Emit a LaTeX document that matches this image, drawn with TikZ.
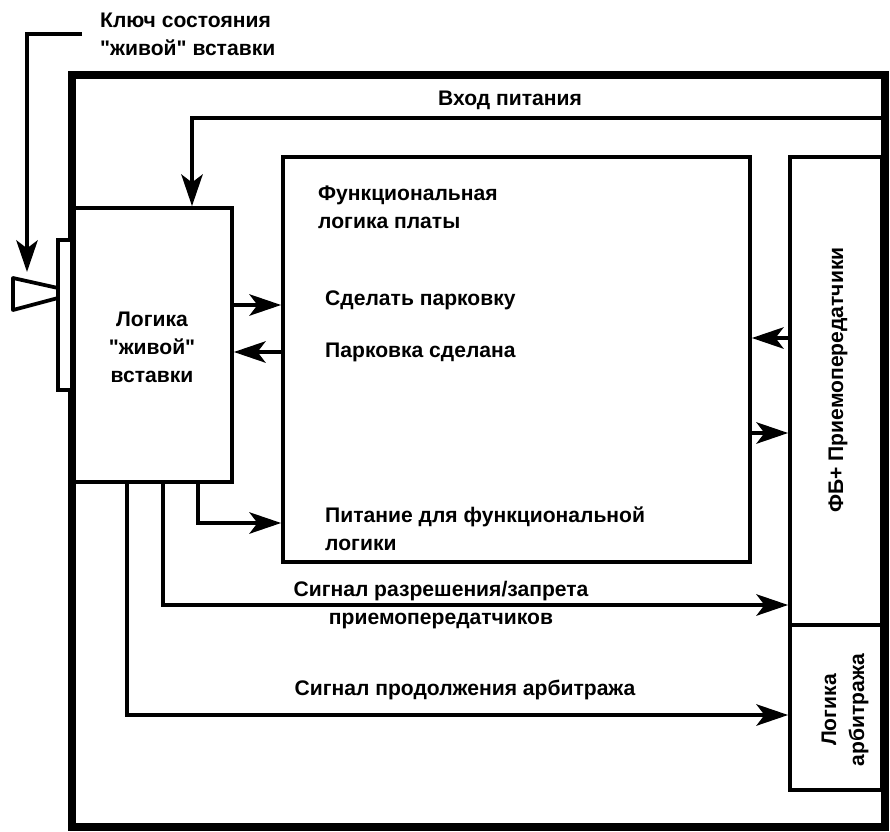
\documentclass[tikz,border=0pt]{standalone}
\usepackage{fontspec}
\setmainfont{Liberation Sans}[Ligatures=TeXOff]
\usepackage{tikz}
\usetikzlibrary{arrows.meta,positioning,fit}

\tikzset{
  blk/.style={draw,line width=3.2pt,inner sep=0pt},
  sig/.style={line width=3.2pt,-{Stealth[length=9.5mm,width=6.4mm,inset=2.4mm]}},
  lbl/.style={font=\fontsize{18}{24}\selectfont\bfseries,inner sep=0pt}
}

\begin{document}
\begin{tikzpicture}[x=0.03cm,y=-0.03cm]
  \useasboundingbox (0,0) rectangle (890,831);
  \node[blk,line width=7.5pt,fit={(72,75) (885,827)}] (board) {};
  \node[blk,fit={(74,208) (232,482)}] (hs) {};
  \node[blk,fit={(283,157) (750,562)}] (fl) {};
  \node[blk,fit={(790,157) (882,625)}] (tr) {};
  \node[blk,fit={(790,625) (882,790)}] (arb) {};
  \node[blk,fill=white,fit={(58,240) (72,390)}] (bar) {};
  \draw[line width=3.2pt,line join=round] (13,278) -- (58,288) -- (58,298) -- (13,310) -- cycle;
  \coordinate (plug) at (27,272);
  \coordinate (pin) at (885,118);

  \node[lbl,anchor=west,align=left] (key) at (100,34) {Ключ состояния\\"живой" вставки};
  \node[lbl] (pwrlbl) at (510,100) {Вход питания};
  \node[lbl,align=center] (hslbl) at (152,347) {Логика\\"живой"\\вставки};
  \node[lbl,anchor=west,align=left] (fltitle) at (318,207) {Функциональная\\логика платы};
  \node[lbl,anchor=west] (park) at (325,300) {Сделать парковку};
  \node[lbl,anchor=west] (parked) at (325,352) {Парковка сделана};
  \node[lbl,anchor=west,align=left] (flpwr) at (325,529) {Питание для функциональной\\логики};
  \node[lbl,align=center] (enlbl) at (441,605) {Сигнал разрешения/запрета\\приемопередатчиков};
  \node[lbl] (arblbl) at (465,690) {Сигнал продолжения арбитража};
  \node[lbl,rotate=90] (trlbl) at (838,380) {ФБ+ Приемопередатчики};
  \node[lbl,rotate=90,align=center] (arbtxt) at (845,710) {Логика\\арбитража};

  \draw[sig] (key.west) ++(-18,0) -| (plug);
  \draw[sig] (pin) -| (hs.north -| 192,0);
  \draw[sig] (hs.east |- 0,305) -- (fl.west |- 0,305);
  \draw[sig] (fl.west |- 0,352) -- (hs.east |- 0,352);
  \draw[sig] (tr.west |- 0,338) -- (fl.east |- 0,338);
  \draw[sig] (fl.east |- 0,433) -- (tr.west |- 0,433);
  \draw[sig] (hs.south -| 198,0) |- (fl.west |- 0,523);
  \draw[sig] (hs.south -| 163,0) |- (tr.west |- 0,605);
  \draw[sig] (hs.south -| 127,0) |- (arb.west |- 0,715);
\end{tikzpicture}
\end{document}
